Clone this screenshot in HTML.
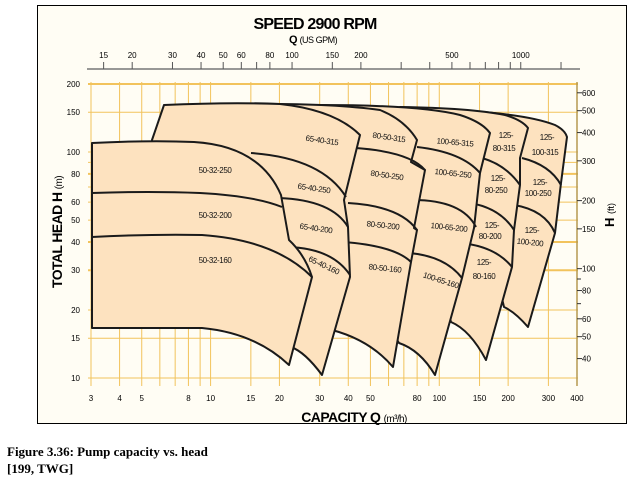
<!DOCTYPE html>
<html><head><meta charset="utf-8"><style>
body{margin:0;background:#fff;width:632px;height:480px;overflow:hidden}
svg{position:absolute;left:0;top:0}
text{font-family:"Liberation Sans",sans-serif}
.cap{font-family:"Liberation Serif",serif;font-weight:bold;font-size:13px}
</style></head><body>
<svg width="632" height="480" viewBox="0 0 632 480">
<rect x="37.5" y="5.5" width="589" height="418" fill="#fffdf4" stroke="#000" stroke-width="1"/>
<g id="grid" stroke="#f2c35c" stroke-width="1"></g>
<g stroke="#1a1a1a" stroke-width="2" fill="#fde2bf" stroke-linejoin="round">
<!-- F 125-100 -->
<path d="M450,130 L470,111 Q530,115 555,125 Q565,130 567,137 L561,183 L555,233 L528,327 Q515,312 504,307 L500,290 L470,280 Z"/>
<path d="M522,158 Q550,165 561,185 M514,205 Q545,210 555,233" fill="none"/>
<!-- E 125-80 -->
<path d="M380,130 L400,107 Q470,108 505,115 Q522,120 528,128 L520,158 L520,185 L514,230 L512,267 L486,360 Q470,330 451,322 L445,300 L400,290 Z"/>
<path d="M482,158 Q506,165 520,185 M470,203 Q500,208 514,230 M460,243 Q495,246 512,267" fill="none"/>
<!-- D 100-65 -->
<path d="M300,130 L320,105 Q420,105 460,115 Q482,122 490,133 L480,173 L474,228 L462,278 L435,375 Q420,350 399,343 L385,320 L320,300 Z"/>
<path d="M417,147 Q462,152 480,173 M413,200 Q462,200 476,227 M409,253 Q445,256 462,278" fill="none"/>
<!-- C 80-50 -->
<path d="M230,130 L240,104 Q330,103 380,110 Q405,120 417,140 L411,162 L425,170 L414,228 L417,230 L411,262 L393,367 Q370,340 332,330 L315,310 L240,300 Z"/>
<path d="M356,148 Q410,152 425,170 M348,203 Q400,206 417,230 M344,242 Q395,246 411,262" fill="none"/>
<!-- B 65-40 -->
<path d="M152,140 L164,105 Q230,102 280,104 Q335,110 360,135 L344,200 L348,227 L350,277 L322,375 Q305,352 291,347 L240,320 L150,300 Z"/>
<path d="M251,153 Q322,158 346,197 M279,198 Q332,200 348,227 M287,247 Q332,248 350,275" fill="none"/>
<!-- A 50-32 -->
<path d="M92,143 Q150,140 194,142 Q260,146 281,195 L289,240 Q305,255 312,277 L289,365 Q255,333 202,328 L92,328 Z"/>
<path d="M92,193 Q150,191 200,193 Q255,196 282,207 M92,237 Q150,234 202,235 Q275,240 312,277" fill="none"/>
</g>
<g font-size="8" fill="#111" text-anchor="middle" letter-spacing="-0.4">
<text x="322" y="143" transform="rotate(8 322 140)">65-40-315</text>
<text x="389" y="140" transform="rotate(8 389 137)">80-50-315</text>
<text x="455" y="145" transform="rotate(5 455 142)">100-65-315</text>
<text x="506" y="138">125-</text><text x="504" y="151">80-315</text>
<text x="547" y="140">125-</text><text x="545" y="155">100-315</text>
<text x="215" y="173">50-32-250</text>
<text x="314" y="191" transform="rotate(8 314 188)">65-40-250</text>
<text x="387" y="178" transform="rotate(8 387 175)">80-50-250</text>
<text x="453" y="176" transform="rotate(6 453 173)">100-65-250</text>
<text x="498" y="181">125-</text><text x="496" y="193">80-250</text>
<text x="540" y="185">125-</text><text x="538" y="196">100-250</text>
<text x="215" y="218">50-32-200</text>
<text x="316" y="231" transform="rotate(8 316 228)">65-40-200</text>
<text x="383" y="228" transform="rotate(6 383 225)">80-50-200</text>
<text x="449" y="230" transform="rotate(6 449 227)">100-65-200</text>
<text x="492" y="228">125-</text><text x="490" y="239">80-200</text>
<text x="532" y="233">125-</text><text x="530" y="245" transform="rotate(6 530 242)">100-200</text>
<text x="215" y="263">50-32-160</text>
<text x="324" y="268" transform="rotate(25 324 265)">65-40-160</text>
<text x="385" y="271" transform="rotate(6 385 268)">80-50-160</text>
<text x="441" y="283" transform="rotate(18 441 280)">100-65-160</text>
<text x="484" y="265">125-</text><text x="484" y="279">80-160</text>
</g>
<g id="axes"></g>
<text x="315" y="29" font-size="16" font-weight="bold" text-anchor="middle" letter-spacing="-0.8">SPEED 2900 RPM</text>
<text x="313" y="43" font-size="11" font-weight="bold" text-anchor="middle" letter-spacing="-0.5">Q <tspan font-size="9" font-weight="normal">(US GPM)</tspan></text>
<text x="354" y="422" font-size="14" font-weight="bold" text-anchor="middle" letter-spacing="-0.6">CAPACITY Q <tspan font-size="10" font-weight="normal">(m³/h)</tspan></text>
<text transform="translate(62,232) rotate(-90)" font-size="14" font-weight="bold" text-anchor="middle" letter-spacing="-0.6">TOTAL HEAD H <tspan font-size="10" font-weight="normal">(m)</tspan></text>
<text transform="translate(614,215) rotate(-90)" font-size="13" font-weight="bold" text-anchor="middle">H <tspan font-size="9" font-weight="normal">(ft)</tspan></text>
<text class="cap" x="7" y="456">Figure 3.36: Pump capacity vs. head</text>
<text class="cap" x="7" y="473" font-weight="normal">[199, TWG]</text>
</svg>
<script>
var NS="http://www.w3.org/2000/svg";
function X(v){return 91+228.7*Math.log10(v/3);}
function Y(v){return 84+226*Math.log10(200/v);}
function el(p,t,a,txt){var e=document.createElementNS(NS,t);for(var k in a)e.setAttribute(k,a[k]);if(txt!==undefined)e.textContent=txt;p.appendChild(e);return e;}
var g=document.getElementById("grid");
[3,4,5,6,7,8,9,10,15,20,30,40,50,60,70,80,90,100,150,200,300,400].forEach(function(v){var x=X(v);el(g,"line",{x1:x,x2:x,y1:82,y2:386});});
[200,150,100,90,80,70,60,50,40,30,20,15,10].forEach(function(v){var y=Y(v);el(g,"line",{x1:88,x2:578,y1:y,y2:y,"stroke-width":(v==200||v==80||v==40||v==30)?2:1});});
var a=document.getElementById("axes");
el(a,"line",{x1:577,x2:577,y1:82,y2:386,stroke:"#b59a52","stroke-width":1.5});
[3,4,5,8,10,15,20,30,40,50,80,100,150,200,300,400].forEach(function(v){el(a,"text",{x:X(v),y:401,"font-size":8,"text-anchor":"middle"},v);});
[200,150,100,80,60,50,40,30,20,15,10].forEach(function(v){el(a,"text",{x:80,y:Y(v)+3,"font-size":8,"text-anchor":"end"},v);});
[600,500,400,300,200,150,100,80,60,50,40].forEach(function(v){var y=Y(v*0.3048);el(a,"line",{x1:577,x2:582,y1:y,y2:y,stroke:"#333"});el(a,"text",{x:582,y:y+3,"font-size":8},v);});
[70,90].forEach(function(v){var y=Y(v*0.3048);el(a,"line",{x1:577,x2:581,y1:y,y2:y,stroke:"#333"});});
el(a,"line",{x1:87,x2:580,y1:69,y2:69,stroke:"#777","stroke-width":1.5});
[15,20,30,40,50,60,70,80,100,150,200,300,400,500,600,700,800,900,1000,1500].forEach(function(v){var x=X(v*0.2271);el(a,"line",{x1:x,x2:x,y1:62,y2:69,stroke:"#555"});});
[15,20,30,40,50,60,80,100,150,200,500,1000].forEach(function(v){el(a,"text",{x:X(v*0.2271),y:58,"font-size":8,"text-anchor":"middle"},v);});
</script>
</body></html>
